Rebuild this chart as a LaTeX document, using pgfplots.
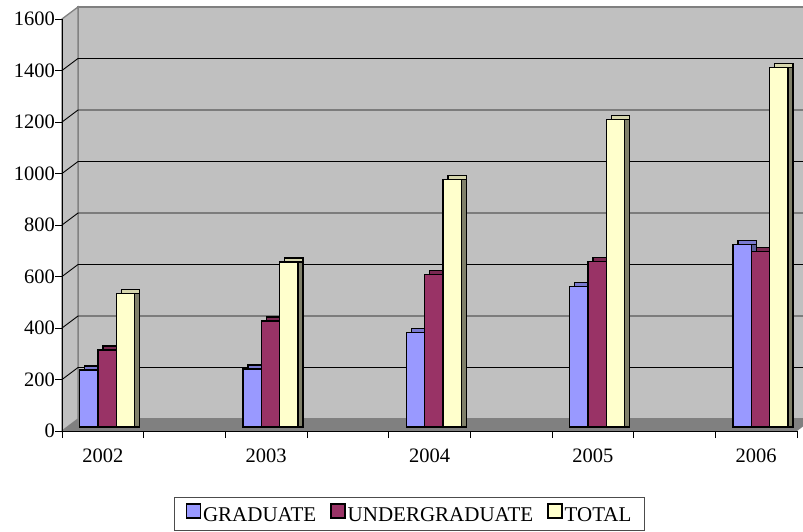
\documentclass[border=0pt]{standalone}
\usepackage{fontspec}
\setmainfont{Liberation Serif}
\usepackage{pgfplots}
\usepackage{pgfplotstable}
\pgfplotsset{compat=1.18}
\definecolor{gradc}{HTML}{9999FF}
\definecolor{gradtop}{HTML}{7A7AD0}
\definecolor{gradside}{HTML}{5C5C99}
\definecolor{ugc}{HTML}{993366}
\definecolor{ugtop}{HTML}{7A2952}
\definecolor{ugside}{HTML}{5C1F3D}
\definecolor{totc}{HTML}{FFFFCC}
\definecolor{tottop}{HTML}{D6D6AD}
\definecolor{totside}{HTML}{80806A}
\definecolor{wallc}{HTML}{C0C0C0}
\definecolor{wallline}{HTML}{808080}
\definecolor{floorc}{HTML}{808080}

\pgfplotstableread{
x   grad ug  tot
0.5 221  299 519
2.5 225  412 641
4.5 366  593 962
6.5 545  642 1195
8.5 709  681 1395
}\datatable

\pgfplotsset{
  mybar/.style={ybar, bar width=18.3pt, draw=black, line width=1.4pt},
}

\begin{document}
\begin{tikzpicture}
\useasboundingbox (0,0) rectangle (803pt,531pt);
\begin{axis}[
  at={(62pt,100pt)}, anchor=south west,
  scale only axis, width=735pt, height=412pt,
  xmin=0, xmax=9, ymin=0, ymax=1600,
  clip=false, axis on top,
  axis x line*=bottom, axis y line*=left,
  axis line style={line width=0.9pt, black, -},
  xtick={0,...,9}, xticklabels={},
  extra x ticks={0.5,2.5,4.5,6.5,8.5},
  extra x tick labels={2002,2003,2004,2005,2006},
  extra x tick style={major tick length=0pt, xticklabel style={inner sep=0pt, anchor=north, yshift=-18pt}},
  ytick={0,200,...,1600},
  tick align=outside, major tick length=7pt,
  tick style={black, line width=0.9pt},
  yticklabel style={inner sep=0pt, anchor=east},
  /pgf/number format/1000 sep={}, /pgf/number format/assume math mode=true,
  tick label style={font=\fontsize{20.5}{24}\selectfont},
  legend style={at={(0.4728,-0.1602)}, anchor=north, legend columns=3,
    draw=black!70, line width=0.8pt, font=\fontsize{21}{25}\selectfont,
    inner xsep=11pt, inner ysep=6pt,
    /tikz/every even column/.append style={column sep=12pt}},
  legend cell align=left,
]
% back wall
\filldraw[fill=wallc, draw=wallline, line width=1.3pt]
  ([xshift=16pt,yshift=12pt]axis cs:0,0) rectangle ([xshift=16pt,yshift=12pt]axis cs:9.3,1600);
% left wall
\filldraw[fill=wallc, draw=wallline, line width=1.3pt]
  (axis cs:0,0) -- (axis cs:0,1600) -- ([xshift=16pt,yshift=12pt]axis cs:0,1600)
  -- ([xshift=16pt,yshift=12pt]axis cs:0,0) -- cycle;
% floor
\fill[floorc] (axis cs:0,0) -- (axis cs:9,0) -- ([xshift=16pt,yshift=12pt]axis cs:9,0)
  -- ([xshift=16pt,yshift=12pt]axis cs:0,0) -- cycle;
% grid lines
\pgfplotsinvokeforeach{200,400,600,800,1000,1200,1400}{
  \draw[black, line width=0.9pt] (axis cs:0,#1) -- ([xshift=16pt,yshift=12pt]axis cs:0,#1)
    -- ([xshift=16pt,yshift=12pt]axis cs:9.3,#1);
}
% GRADUATE
\addplot[mybar, bar shift=-9pt, yshift=8pt, fill=gradtop, forget plot] table[x=x,y=grad]{\datatable};
\addplot[mybar, bar shift=-9pt, yshift=4pt, fill=gradside, forget plot] table[x=x,y=grad]{\datatable};
\addplot[mybar, bar shift=-14pt, yshift=4pt, fill=gradc,
  legend image code/.code={\draw[line width=1.5pt, fill=gradc] (0pt,-7pt) rectangle (14pt,7pt);}]
  table[x=x,y=grad]{\datatable};
\addlegendentry{GRADUATE}
% UNDERGRADUATE
\addplot[mybar, bar shift=9.3pt, yshift=8pt, fill=ugtop, forget plot] table[x=x,y=ug]{\datatable};
\addplot[mybar, bar shift=9.3pt, yshift=4pt, fill=ugside, forget plot] table[x=x,y=ug]{\datatable};
\addplot[mybar, bar shift=4.3pt, yshift=4pt, fill=ugc,
  legend image code/.code={\draw[line width=1.5pt, fill=ugc] (0pt,-7pt) rectangle (14pt,7pt);}]
  table[x=x,y=ug]{\datatable};
\addlegendentry{UNDERGRADUATE}
% TOTAL
\addplot[mybar, bar shift=27.6pt, yshift=8pt, fill=tottop, forget plot] table[x=x,y=tot]{\datatable};
\addplot[mybar, bar shift=27.6pt, yshift=4pt, fill=totside, forget plot] table[x=x,y=tot]{\datatable};
\addplot[mybar, bar shift=22.6pt, yshift=4pt, fill=totc,
  legend image code/.code={\draw[line width=1.5pt, fill=totc] (0pt,-7pt) rectangle (14pt,7pt);}]
  table[x=x,y=tot]{\datatable};
\addlegendentry{TOTAL}
\end{axis}
\end{tikzpicture}
\end{document}
